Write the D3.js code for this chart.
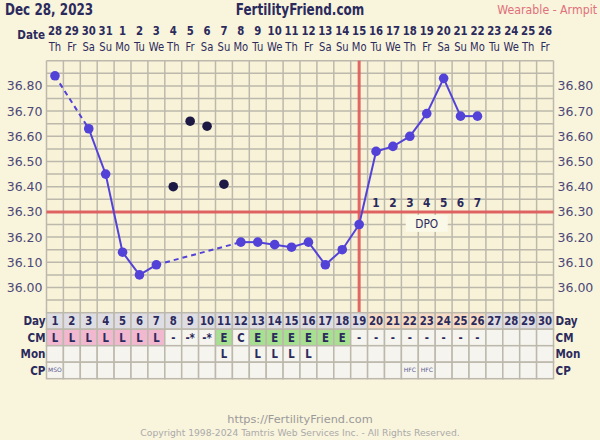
<!DOCTYPE html>
<html><head><meta charset="utf-8">
<script src="https://cdn.jsdelivr.net/npm/d3@7"></script>
<style>
html,body{margin:0;padding:0;background:#f9f4dc;}
svg{display:block;}
text{font-family:"DejaVu Sans",sans-serif;}
</style></head>
<body>
<svg id="c" width="600" height="440"></svg>
<script>
const days = d3.range(1, 31);
const dates = ["28","29","30","31","1","2","3","4","5","6","7","8","9","10","11","12","13","14","15","16","17","18","19","20","21","22","23","24","25","26"];
const weekdays = ["Th","Fr","Sa","Su","Mo","Tu","We","Th","Fr","Sa","Su","Mo","Tu","We","Th","Fr","Sa","Su","Mo","Tu","We","Th","Fr","Sa","Su","Mo","Tu","We","Th","Fr"];
// temperature per cycle day (null = none)
const temps = [36.84,null,36.63,36.45,36.14,36.05,36.09,null,null,null,null,36.18,36.18,36.17,36.16,36.18,36.09,36.15,36.25,36.54,36.56,36.60,36.69,36.83,36.68,36.68,null,null,null,null];
const discardedDays = [8,9,10,11];
const discardedTemps = [36.40,36.66,36.64,36.41];
const tempTicks = [36.00,36.10,36.20,36.30,36.40,36.50,36.60,36.70,36.80];
const coverline = 36.30;
const ovulationDay = 19;
const dpoLabels = ["1","2","3","4","5","6","7"];
const cm = ["L","L","L","L","L","L","L","-","-*","-*","E","C","E","E","E","E","E","E","-","-","-","-","-","-","-","-","","","",""];
const mon = ["","","","","","","","","","","L","","L","L","L","L","","","","","","","","","","","","","",""];
const cp = ["MSO","","","","","","","","","","","","","","","","","","","","","HFC","HFC","","","","","","",""];

const svg = d3.select("#c");
const pLeft = 46.5, pRight = 553.5, pTop = 60.7, pBottom = 312.7;
const x = d3.scaleBand().domain(days).range([pLeft, pRight]).paddingInner(0).paddingOuter(0);
const cx = d => x(d) + x.bandwidth()/2;
const y = d3.scaleLinear().domain([35.90, 36.90]).range([pBottom, pTop]);
const navy = "#2b2a5c", gridC = "#bcb8ac", lineC = "#5242d8", red = "#e05858";

// condensed text helper (horizontal squeeze)
function ctext(px, py, str, opts){
  const o = Object.assign({size:12, bold:false, anchor:"middle", fill:navy, sx:0.8}, opts||{});
  return svg.append("text").attr("transform",`translate(${px},${py}) scale(${o.sx},1)`)
    .attr("text-anchor",o.anchor).attr("fill",o.fill)
    .style("font-size",o.size+"px").style("font-weight",o.bold?"bold":"normal").text(str);
}

// plot background
svg.append("rect").attr("x",pLeft).attr("y",pTop).attr("width",pRight-pLeft).attr("height",pBottom-pTop).attr("fill","#f8f3d8");
const g = svg.append("g");
d3.range(0,21).forEach(i=>{
  const v = 35.90 + i*0.05;
  g.append("line").attr("x1",pLeft).attr("x2",pRight).attr("y1",y(v)).attr("y2",y(v)).attr("stroke",gridC).attr("stroke-width",1.5);
});
days.concat([31]).forEach(d=>{
  const xx = d<=30 ? x(d) : pRight;
  g.append("line").attr("x1",xx).attr("x2",xx).attr("y1",pTop).attr("y2",pBottom).attr("stroke",gridC).attr("stroke-width",1.5);
});

// axes labels
const axL = d3.axisLeft(y).tickValues(tempTicks).tickFormat(d3.format(".2f")).tickSize(0).tickPadding(4);
const axR = d3.axisRight(y).tickValues(tempTicks).tickFormat(d3.format(".2f")).tickSize(0).tickPadding(4);
const gl = svg.append("g").attr("transform",`translate(${pLeft},0)`).call(axL);
const gr = svg.append("g").attr("transform",`translate(${pRight},0)`).call(axR);
[gl,gr].forEach(a=>{a.select(".domain").remove(); a.selectAll("text").attr("fill","#4b4878").style("font-size","12.5px").style("font-family","DejaVu Sans, sans-serif");});

// coverline & ovulation line
svg.append("line").attr("x1",pLeft).attr("x2",pRight).attr("y1",y(coverline)).attr("y2",y(coverline)).attr("stroke",red).attr("stroke-width",3).attr("opacity",0.9);
svg.append("line").attr("x1",cx(ovulationDay)).attr("x2",cx(ovulationDay)).attr("y1",pTop).attr("y2",pBottom+2).attr("stroke",red).attr("stroke-width",3).attr("opacity",0.9);

// line segments
const pts = days.map((d,i)=>({d, t:temps[i]})).filter(p=>p.t!==null);
for(let i=1;i<pts.length;i++){
  const a=pts[i-1], b=pts[i];
  svg.append("line").attr("x1",cx(a.d)).attr("y1",y(a.t)).attr("x2",cx(b.d)).attr("y2",y(b.t))
    .attr("stroke",lineC).attr("stroke-width",2)
    .attr("stroke-dasharray", (b.d-a.d>1) ? "5,4" : null);
}
svg.selectAll("circle.t").data(pts).enter().append("circle").attr("class","t")
  .attr("cx",p=>cx(p.d)).attr("cy",p=>y(p.t)).attr("r",4.8).attr("fill",lineC);
svg.selectAll("circle.dis").data(discardedDays).enter().append("circle").attr("class","dis")
  .attr("cx",d=>cx(d)).attr("cy",(d,i)=>y(discardedTemps[i])).attr("r",4.8).attr("fill","#1c1a45");

// DPO labels
dpoLabels.forEach((l,i)=>{
  ctext(cx(ovulationDay+1+i), y(coverline)-5, l, {size:12.5, bold:true, sx:0.85});
});
const dpoX = (cx(22)+cx(24))/2;
svg.append("rect").attr("x",dpoX-21).attr("y",y(coverline)+3).attr("width",42).attr("height",17).attr("fill","#faf8e6");
ctext(dpoX, y(coverline)+16, "DPO", {size:12.5, sx:0.85});

// header
ctext(5, 15, "Dec 28, 2023", {size:15, bold:true, anchor:"start", sx:0.8});
ctext(300, 15, "FertilityFriend.com", {size:15, bold:true, sx:0.8});
ctext(597, 14, "Wearable - Armpit", {size:12.5, anchor:"end", fill:"#e0707a", sx:0.88});
ctext(45, 39, "Date", {size:13, bold:true, anchor:"end"});
days.forEach((d,i)=>{
  ctext(cx(d), 35, dates[i], {size:13, bold:true, sx:0.78});
  ctext(cx(d), 51, weekdays[i], {size:11.5, sx:0.87});
});

// table
const rowH = 16.5;
const rows = [{name:"Day", vals:days.map(String)}, {name:"CM", vals:cm}, {name:"Mon", vals:mon}, {name:"CP", vals:cp}];
const t0 = pBottom;
rows.forEach((r,ri)=>{
  const yy = t0 + ri*rowH;
  days.forEach((d,i)=>{
    let fill = "#f5f4ee";
    if(ri===0) fill = (d>=20 && d<=26) ? "#f6dcc6" : "#dedde4";
    if(ri===1){ if(r.vals[i]==="L") fill="#f2b8cf"; else if(r.vals[i]==="E") fill="#a8e092"; }
    svg.append("rect").attr("x",x(d)).attr("y",yy).attr("width",x.bandwidth()).attr("height",rowH).attr("fill",fill).attr("stroke",gridC).attr("stroke-width",1.5);
    const v = r.vals[i];
    if(v){
      if(ri===3){
        svg.append("text").attr("x", d===1 ? x(d)+1.5 : cx(d)).attr("y",yy+rowH/2+2).attr("text-anchor", d===1?"start":"middle")
          .attr("fill","#5a5890").style("font-size","6px").text(v);
      } else {
        ctext(cx(d), yy+rowH/2+4.5, v, {size:13, bold:true, sx:0.78});
      }
    }
  });
  ctext(pLeft-1, yy+rowH/2+4.5, r.name, {size:13, bold:true, anchor:"end"});
  ctext(pRight+2, yy+rowH/2+4.5, r.name, {size:13, bold:true, anchor:"start"});
});

// footer
svg.append("text").attr("x",300).attr("y",423).attr("text-anchor","middle").attr("fill","#9a9a9a").style("font-size","11.3px").text("https://FertilityFriend.com");
svg.append("text").attr("x",300).attr("y",436).attr("text-anchor","middle").attr("fill","#aaaaaa").style("font-size","9.2px").text("Copyright 1998-2024 Tamtris Web Services Inc. - All Rights Reserved.");
</script>
</body></html>
